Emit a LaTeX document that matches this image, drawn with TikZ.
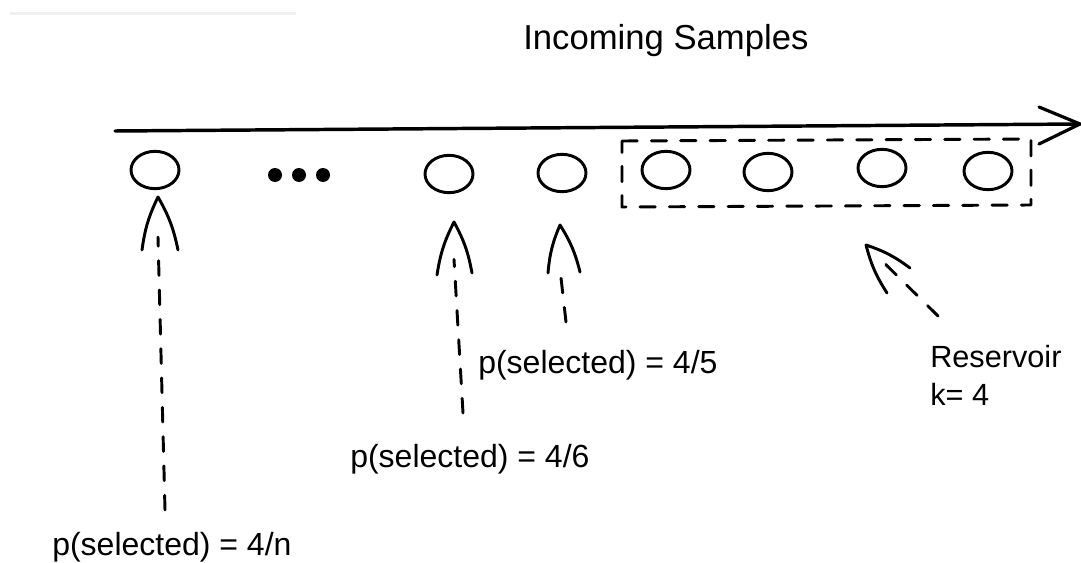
\documentclass[tikz,border=0pt]{standalone}
\usepackage{fontspec}
\setmainfont{Liberation Sans}
\usetikzlibrary{shapes.geometric,calc}
\begin{document}
\begin{tikzpicture}[x=0.75pt,y=-0.75pt,
  ink/.style={line width=2.2pt, line cap=round, line join=round},
  sample/.style={ellipse, draw, ink, minimum width=36pt, minimum height=28pt, inner sep=0pt},
  dot/.style={circle, fill, minimum size=10.5pt, inner sep=0pt},
  dashline/.style={ink, dash pattern=on 11pt off 11pt},
  boxline/.style={ink, dash pattern=on 11.5pt off 10.5pt},
  barb/.style={ink, bend left=9},
  label/.style={font=\fontsize{24}{28}\selectfont, inner sep=0pt, anchor=base west}]
\useasboundingbox (0,0) rectangle (1081,563);

% faint toolbar shadow in the corner
\fill[black!6] (10,12) rectangle (296,15);

% title
\node[label, font=\fontsize{26}{30}\selectfont] (title) at (523,50) {Incoming Samples};

% time axis
\coordinate (axstart) at (115,131);
\coordinate (axend) at (1080,124);
\draw[ink, line width=2.6pt] (axstart) -- (axend);
\draw[ink, line width=2.4pt] (1039,107) -- (axend) -- (1039,144);

% samples
\node[sample] (s1) at (155,170) {};
\node[dot] (d1) at (275,175) {};
\node[dot] (d2) at (299,175) {};
\node[dot] (d3) at (323,175) {};
\node[sample] (s2) at (449,174) {};
\node[sample] (s3) at (562,173) {};
\node[sample] (s4) at (666,170) {};
\node[sample] (s5) at (768,172) {};
\node[sample] (s6) at (882,168) {};
\node[sample] (s7) at (988,171) {};

% reservoir box
\coordinate (rb1) at (622,141);
\coordinate (rb2) at (1031,139);
\coordinate (rb3) at (1031,205);
\coordinate (rb4) at (622,207);
\draw[boxline] (rb1) -- (rb2) -- (rb3) -- (rb4) -- cycle;

% selection arrows: tails, tips
\coordinate (t1) at (165,510); \coordinate (h1) at (158,197);
\coordinate (t2) at (463,413); \coordinate (h2) at (454,222);
\coordinate (t3) at (566,322); \coordinate (h3) at (560,225);
\coordinate (t4) at (938,316); \coordinate (h4) at (866,245);

\draw[dashline] (t1) -- ([yshift=-30]h1);
\draw[barb] (h1) ++(-16,53) to (h1) to ++(20,53);
\draw[dashline] (t2) -- ([yshift=-28]h2);
\draw[barb] (h2) ++(-17,53) to (h2) to ++(18,51);
\draw[dashline] (t3) -- ([yshift=-33]h3);
\draw[barb] (h3) ++(-12,48) to (h3) to ++(20,47);
\draw[dashline] (t4) -- ($(h4)!0.25!(t4)$);
\draw[barb] (h4) ++(21,48) to (h4) to ++(44,23);

% labels
\node[label] (l3) at (478,373) {p(selected) = 4/5};
\node[label] (l2) at (350,467) {p(selected) = 4/6};
\node[label] (l1) at (52,555) {p(selected) = 4/n};
\node[label, font=\fontsize{23}{27}\selectfont] (res) at (930,367) {Reservoir};
\node[label, font=\fontsize{23}{27}\selectfont] (kk) at (930,405) {k= 4};
\end{tikzpicture}
\end{document}
